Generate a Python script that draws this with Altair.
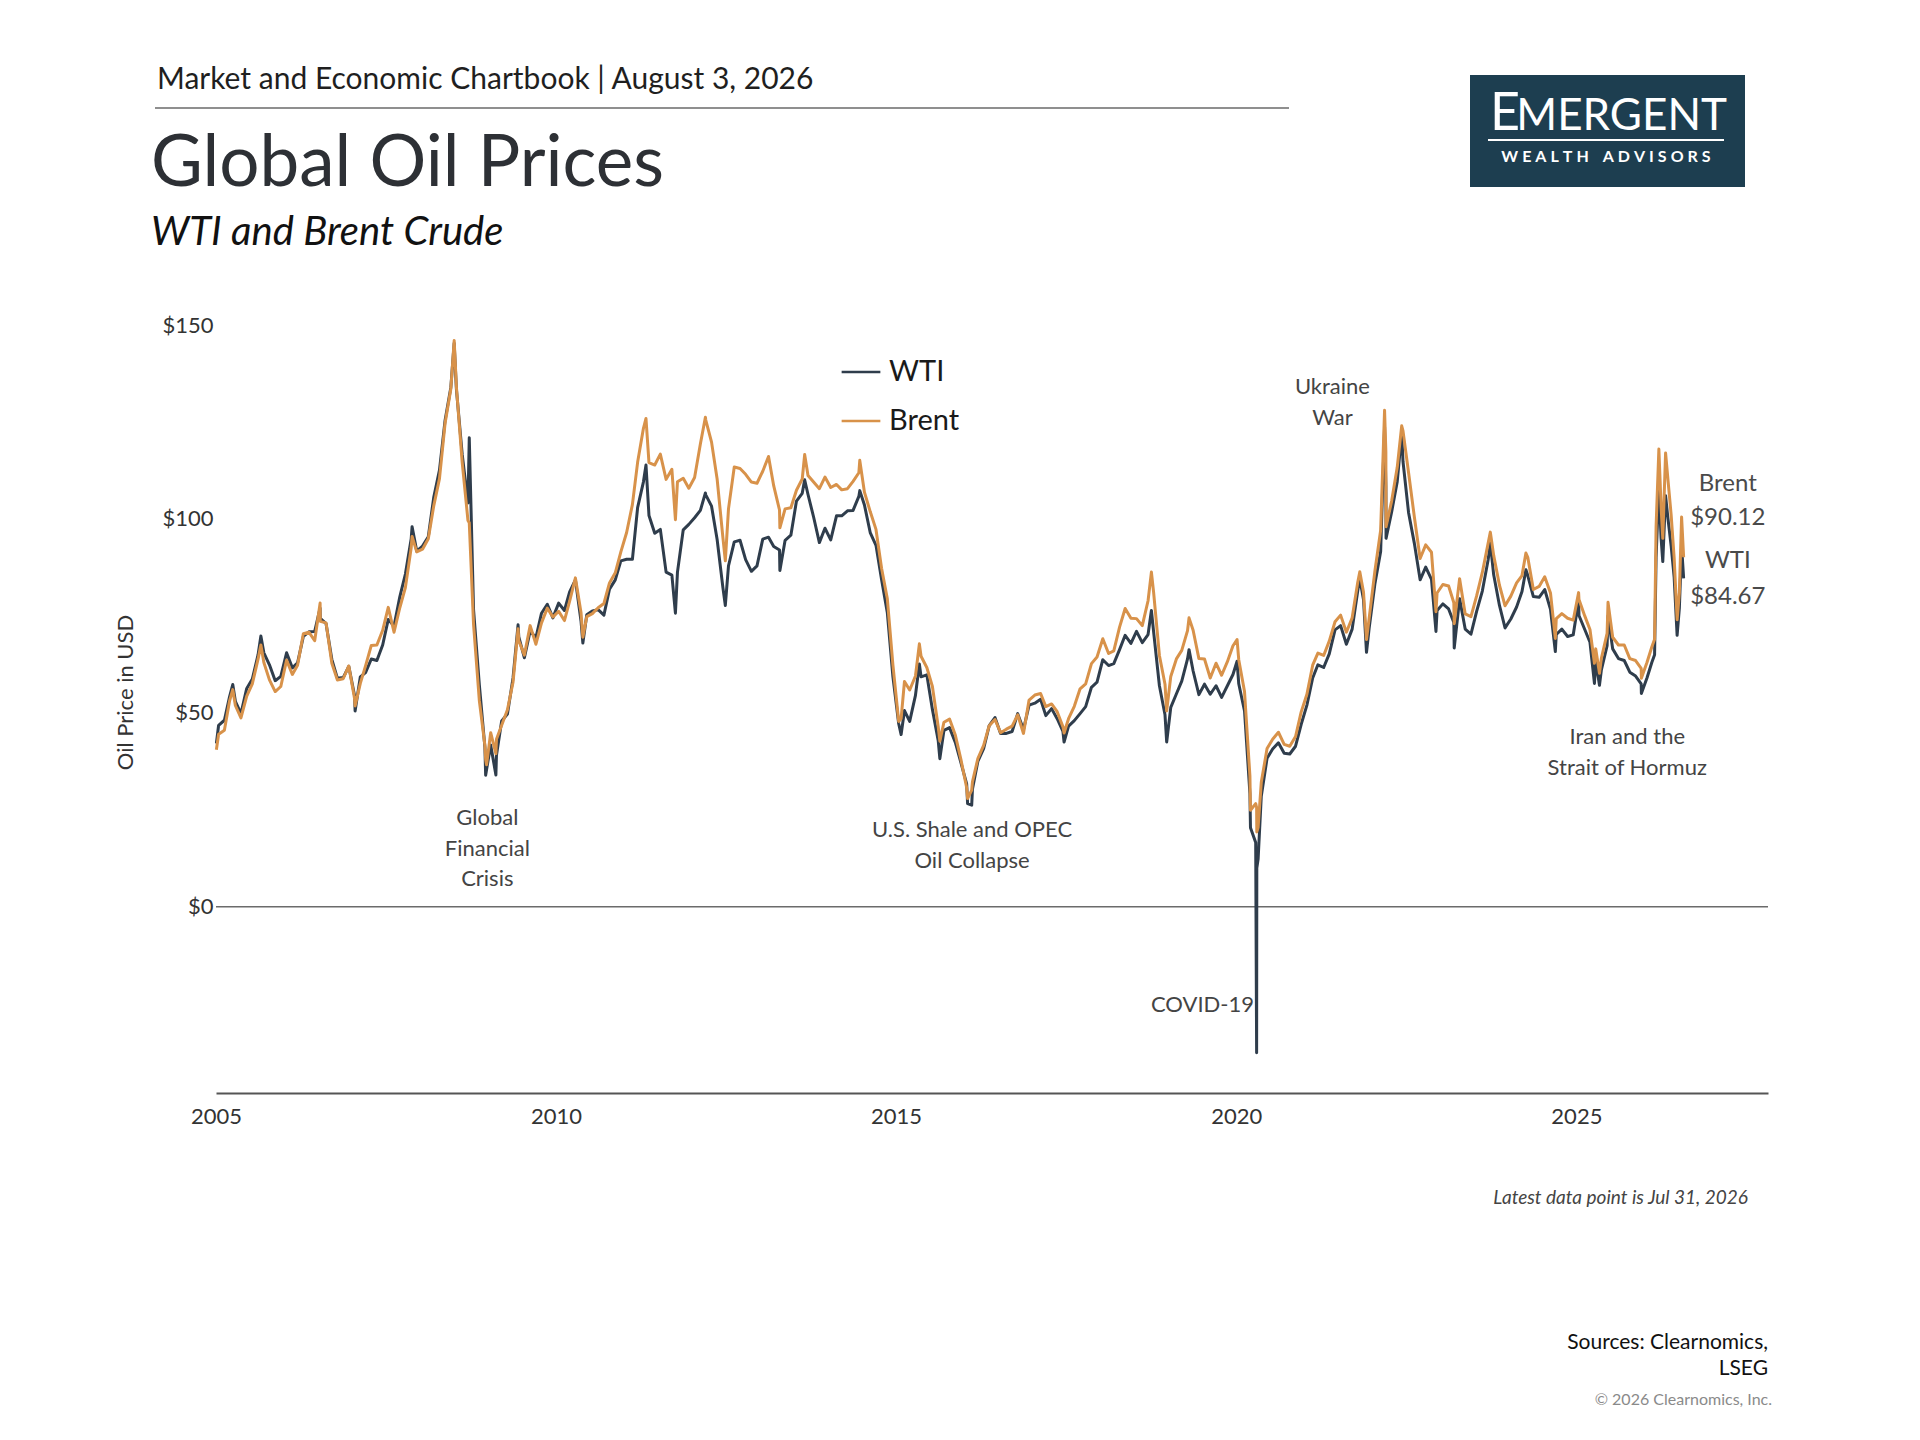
import altair as alt
import pandas as pd

# ---------------- data ----------------
month_starts = pd.date_range("2005-01-01", "2025-12-01", freq="MS")

wti_monthly = [
    46.8, 48.1, 54.2, 53.0, 49.8, 56.3, 58.7, 65.0, 65.5, 62.4, 58.3, 59.4,
    65.5, 61.6, 62.9, 69.7, 70.9, 71.0, 74.4, 73.0, 63.8, 58.9, 59.1, 62.0,
    54.5, 59.3, 60.4, 63.9, 63.5, 67.5, 74.1, 72.4, 79.9, 85.8, 94.8, 91.7,
    93.0, 95.4, 105.5, 112.6, 125.4, 133.9, 133.4, 116.7, 104.1, 76.6, 57.3, 41.1,
    41.7, 39.1, 47.9, 49.7, 59.0, 69.6, 64.2, 71.1, 69.4, 75.7, 78.0, 74.5,
    78.3, 76.4, 81.2, 84.3, 73.7, 75.3, 76.3, 76.6, 75.2, 81.9, 84.3, 89.2,
    89.6, 89.6, 102.9, 109.5, 100.9, 96.3, 97.3, 86.3, 85.5, 86.3, 97.2, 98.6,
    100.3, 102.2, 106.2, 103.3, 94.7, 82.3, 87.9, 94.1, 94.5, 89.5, 86.5, 87.9,
    94.8, 95.3, 92.9, 92.0, 94.5, 95.8, 104.6, 106.6, 106.3, 100.5, 93.9, 97.6,
    94.6, 100.8, 100.8, 102.1, 102.2, 105.8, 103.6, 96.5, 93.2, 84.4, 75.8, 59.3,
    47.2, 50.6, 47.8, 54.5, 59.3, 59.8, 50.9, 42.9, 45.5, 46.2, 42.4, 37.2,
    31.7, 30.3, 37.5, 40.8, 46.7, 48.8, 44.7, 44.7, 45.2, 49.8, 45.7, 52.0,
    52.5, 53.5, 49.3, 51.1, 48.5, 45.2, 46.6, 48.0, 49.8, 51.6, 56.6, 57.9,
    63.7, 62.2, 62.7, 66.3, 70.0, 67.9, 71.0, 68.1, 70.2, 70.8, 57.0, 49.5,
    51.4, 55.0, 58.2, 63.9, 60.8, 54.7, 57.4, 54.8, 57.0, 54.0, 57.0, 59.9,
    57.5, 50.5, 29.2, 16.6, 28.5, 38.3, 40.7, 42.3, 39.6, 39.4, 41.4, 47.0,
    52.0, 59.0, 62.4, 61.7, 65.2, 71.4, 72.5, 67.7, 71.6, 81.5, 79.2, 71.7,
    83.2, 91.6, 108.5, 101.8, 109.6, 114.8, 101.6, 93.7, 84.3, 87.6, 84.4, 76.4,
    78.1, 76.8, 73.3, 79.4, 71.6, 70.3, 76.1, 81.4, 89.4, 85.6, 77.7, 71.9,
    74.2, 77.3, 81.3, 85.4, 80.0, 79.8, 81.8, 76.7, 70.2, 71.6, 69.7, 70.1,
    75.1, 71.5, 68.2, 63.5, 61.0, 67.3, 66.5, 64.0, 63.5, 60.5, 59.5, 57.5,
]

brent_monthly = [
    44.5, 45.5, 53.1, 51.9, 48.7, 54.3, 57.5, 63.9, 63.0, 58.5, 55.5, 56.8,
    63.6, 59.9, 62.3, 70.4, 70.8, 68.6, 73.6, 73.2, 62.8, 58.5, 58.8, 62.1,
    53.7, 57.6, 62.1, 67.4, 67.5, 71.3, 77.2, 70.8, 77.1, 82.3, 92.5, 91.5,
    92.2, 94.9, 103.3, 110.4, 124.6, 133.5, 134.0, 114.6, 99.6, 72.8, 53.2, 41.6,
    44.9, 43.2, 46.8, 50.8, 57.9, 68.6, 64.9, 72.5, 67.7, 73.2, 77.0, 74.7,
    76.2, 73.8, 78.8, 84.8, 75.9, 74.8, 75.6, 77.1, 78.2, 83.5, 86.1, 91.5,
    96.5, 103.7, 114.6, 123.3, 114.5, 113.9, 116.7, 110.2, 112.8, 109.6, 110.5, 107.9,
    110.7, 119.3, 125.5, 119.8, 110.3, 95.2, 102.6, 113.4, 113.0, 111.5, 109.5, 109.2,
    112.3, 116.1, 108.5, 102.3, 102.6, 102.9, 107.4, 110.3, 111.2, 109.5, 107.8, 110.8,
    108.1, 108.9, 107.5, 107.8, 109.7, 111.9, 106.9, 101.9, 97.3, 87.3, 79.4, 62.3,
    47.8, 58.1, 55.9, 59.5, 64.6, 61.7, 56.8, 46.5, 47.6, 48.4, 44.3, 38.0,
    30.7, 32.2, 38.2, 41.6, 46.7, 48.3, 44.9, 45.8, 46.6, 49.5, 44.7, 53.3,
    54.6, 55.0, 51.6, 52.3, 50.3, 46.4, 48.5, 51.7, 56.2, 57.5, 62.7, 64.4,
    69.1, 65.3, 66.0, 72.1, 76.9, 74.4, 74.3, 72.5, 78.9, 81.0, 64.8, 57.4,
    59.4, 64.0, 66.1, 71.2, 71.3, 64.0, 63.9, 59.0, 62.8, 59.7, 63.2, 67.3,
    63.7, 55.5, 33.7, 26.6, 32.1, 40.8, 43.2, 45.0, 41.9, 41.4, 43.9, 50.2,
    54.8, 62.3, 65.4, 64.8, 68.5, 73.5, 75.2, 70.8, 74.5, 83.7, 81.1, 74.3,
    86.5, 97.1, 117.3, 104.6, 113.3, 122.7, 111.9, 100.5, 89.8, 93.3, 91.4, 80.9,
    83.1, 82.7, 78.4, 84.6, 75.5, 74.8, 80.1, 86.2, 93.7, 90.6, 82.9, 77.6,
    80.1, 83.5, 85.4, 90.1, 81.8, 82.6, 85.1, 80.9, 74.3, 75.6, 74.4, 73.9,
    79.2, 75.0, 71.5, 66.5, 64.0, 70.5, 69.5, 67.5, 67.5, 64.0, 63.5, 61.5,
]

# notable daily highs / lows and the 2026 episode
extra_dates = [
    "2005-01-03", "2005-04-01", "2005-08-30", "2006-07-14", "2007-01-18",
    "2007-11-20", "2008-07-03", "2008-09-22", "2008-12-19", "2008-12-24",
    "2009-02-12", "2009-06-11", "2010-05-25", "2011-04-29", "2011-10-04",
    "2012-03-13", "2012-06-28", "2013-04-17", "2013-08-28", "2014-06-20",
    "2015-01-28", "2015-05-06", "2015-08-24", "2016-01-20", "2016-02-11",
    "2017-06-21", "2018-10-03", "2018-12-24", "2019-04-23", "2020-01-06",
    "2020-03-18", "2020-04-20", "2020-04-21", "2020-04-28", "2021-10-26",
    "2021-12-01", "2022-03-08", "2022-03-16", "2022-06-08", "2022-12-09",
    "2023-03-17", "2023-09-27", "2024-04-05", "2024-09-10", "2025-01-13",
    "2025-04-08", "2025-05-05", "2025-06-20", "2025-12-16",
    "2026-01-15", "2026-02-10", "2026-02-25", "2026-03-05", "2026-03-20",
    "2026-04-01", "2026-04-10", "2026-04-25", "2026-05-08", "2026-05-25",
    "2026-06-10", "2026-06-26", "2026-07-08", "2026-07-20", "2026-07-31",
]
extra_wti = [
    42.1, 57.3, 69.8, 77.0, 50.5,
    98.0, 145.3, 120.9, 33.9, 35.4,
    34.0, 72.7, 68.0, 113.9, 75.7,
    106.7, 77.7, 86.7, 110.1, 107.3,
    44.4, 62.6, 38.2, 26.6, 26.2,
    42.5, 76.4, 42.5, 66.3, 63.3,
    20.4, -37.6, 10.0, 12.3, 84.6,
    65.6, 123.7, 95.0, 122.1, 71.0,
    66.7, 93.7, 86.9, 65.8, 79.0,
    57.6, 57.1, 75.0, 55.0,
    59.0, 63.0, 65.0, 90.0, 108.0,
    95.0, 89.0, 106.0, 100.0, 93.0,
    85.0, 70.0, 77.0, 93.0, 84.67,
]
extra_brent = [
    40.5, 56.0, 67.5, 78.3, 51.8,
    95.5, 146.0, 99.0, 38.0, 36.6,
    39.5, 71.7, 69.5, 125.9, 99.8,
    126.2, 89.2, 97.7, 116.6, 115.1,
    48.5, 67.8, 42.7, 27.9, 30.1,
    44.8, 86.3, 50.5, 74.5, 68.9,
    24.9, 25.6, 19.3, 20.5, 86.4,
    68.9, 128.0, 98.0, 124.0, 76.1,
    73.0, 96.6, 91.2, 69.2, 81.0,
    62.8, 60.2, 78.5, 58.9,
    63.0, 67.0, 69.0, 98.0, 118.0,
    103.0, 95.0, 117.0, 110.0, 101.0,
    90.0, 74.0, 81.0, 100.5, 90.12,
]

series_names = ["WTI", "Brent"]
series_colors = ["#2f3d4c", "#d8924a"]
y_tick_values = [0, 50, 100, 150]
x_tick_years = [2005, 2010, 2015, 2020, 2025]

ann_text = ["Global", "Financial", "Crisis", "U.S. Shale and OPEC", "Oil Collapse",
            "Ukraine", "War", "Iran and the", "Strait of Hormuz"]
ann_date = ["2008-12-28"] * 3 + ["2016-02-13"] * 2 + ["2021-06-01"] * 2 + ["2025-10-01"] * 2
ann_value = [22.8, 14.8, 7.1, 19.7, 11.7, 133.9, 125.9, 43.7, 35.7]

last_text = ["Brent", "$90.12", "WTI", "$84.67"]
last_date = ["2027-03-25"] * 4
last_value = [108.9, 100.2, 89.1, 79.8]

covid_text = ["COVID-19"]
covid_date = ["2020-04-06"]
covid_value = [-25.4]

# ---------------- tables ----------------
monthly_dates = list(month_starts + pd.Timedelta(days=14))
prices = pd.DataFrame({
    "date": monthly_dates + list(pd.to_datetime(extra_dates)),
    "WTI": wti_monthly + extra_wti,
    "Brent": brent_monthly + extra_brent,
}).sort_values("date")
long = prices.melt(id_vars="date", var_name="series", value_name="price")

ann = pd.DataFrame({"date": pd.to_datetime(ann_date), "price": ann_value, "text": ann_text})
last = pd.DataFrame({"date": pd.to_datetime(last_date), "price": last_value, "text": last_text})
covid = pd.DataFrame({"date": pd.to_datetime(covid_date), "price": covid_value, "text": covid_text})
one = pd.DataFrame({"a": [0]})

FONT = "Lato"
W, H = 1552, 768

x_enc = alt.X(
    "date:T",
    scale=alt.Scale(domain=[alt.DateTime(year=2005, month=1, date=1),
                            alt.DateTime(year=2027, month=10, date=27)]),
    axis=alt.Axis(
        values=[alt.DateTime(year=y, month=1, date=1) for y in x_tick_years],
        format="%Y", title=None, ticks=False, grid=False, labelFlush=False,
        labelFont=FONT, labelFontSize=22, labelColor="#333333", labelPadding=13,
        domainColor="#555555", domainWidth=2,
    ),
)
y_enc = alt.Y(
    "price:Q",
    scale=alt.Scale(domain=[-48, 150], nice=False, zero=False),
    axis=alt.Axis(
        values=y_tick_values, labelExpr="'$' + datum.value", ticks=False, domain=False,
        grid=False, labelFont=FONT, labelFontSize=22, labelColor="#333333", labelPadding=3,
        title="Oil Price in USD", titleFont=FONT, titleFontSize=22, titleFontWeight="normal",
        titleColor="#333333", titleX=-91, titleY=367, titleAlign="center", titleAngle=270,
        titleBaseline="middle",
    ),
)
color_enc = alt.Color(
    "series:N",
    scale=alt.Scale(domain=series_names, range=series_colors),
    legend=alt.Legend(
        title=None, orient="none", legendX=624, legendY=26, symbolType="stroke",
        symbolSize=1500, symbolStrokeWidth=2.5, labelFont=FONT, labelFontSize=29,
        labelColor="#1a1a1a", labelOffset=7, rowPadding=13, padding=0, offset=0,
    ),
)

base = alt.Chart(long)
wti_line = base.transform_filter(alt.datum.series == "WTI").mark_line(
    strokeWidth=3.0, strokeJoin="round").encode(x=x_enc, y=y_enc, color=color_enc)
brent_line = base.transform_filter(alt.datum.series == "Brent").mark_line(
    strokeWidth=3.0, strokeJoin="round").encode(x=x_enc, y=y_enc, color=color_enc)

zero_rule = alt.Chart(one).mark_rule(color="#6b6b6b", strokeWidth=1.6).encode(
    y=alt.datum(0), x=alt.value(0), x2=alt.value(W))

ann_layer = alt.Chart(ann).mark_text(font=FONT, fontSize=22, color="#444444",
                                     align="center", baseline="middle").encode(
    x="date:T", y="price:Q", text="text:N")
last_layer = alt.Chart(last).mark_text(font=FONT, fontSize=24, color="#4a4a4a",
                                       align="center", baseline="middle").encode(
    x="date:T", y="price:Q", text="text:N")
covid_layer = alt.Chart(covid).mark_text(font=FONT, fontSize=22, color="#444444",
                                         align="right", baseline="middle").encode(
    x="date:T", y="price:Q", text="text:N")


def label(txt, x, y, size, color, align="left", baseline="middle", style=None,
          weight=None):
    kw = dict(text=txt, font=FONT, fontSize=size, color=color, align=align, baseline=baseline)
    if style:
        kw["fontStyle"] = style
    if weight:
        kw["fontWeight"] = weight
    return alt.Chart(one).mark_text(**kw).encode(x=alt.value(x), y=alt.value(y))


header = label("Market and Economic Chartbook | August 3, 2026", -59, -245, 30, "#1f1f1f")
header_rule = alt.Chart(one).mark_rule(color="#6a6a6a", strokeWidth=1.3).encode(
    x=alt.value(-61), x2=alt.value(1073), y=alt.value(-217))
title = label("Global Oil Prices", -65, -160, 71, "#2d3035")
subtitle = label("WTI and Brent Crude", -65, -92, 40, "#111111", style="italic")

logo_box = alt.Chart(one).mark_rect(color="#1d3e50").encode(
    x=alt.value(1254), x2=alt.value(1529), y=alt.value(-250), y2=alt.value(-138))
logo_e = label("E", 1274, -195, 52, "#ffffff", baseline="alphabetic")
logo_rest = label("MERGENT", 1511, -195, 44, "#ffffff", align="right",
                  baseline="alphabetic")
logo_rule = alt.Chart(one).mark_rule(color="#ffffff", strokeWidth=2).encode(
    x=alt.value(1272), x2=alt.value(1508), y=alt.value(-185))
sp = "\u2009\u2009"
logo_sub = label(sp.join("WEALTH") + "\u2003\u2009" + sp.join("ADVISORS"),
                 1390, -168, 16, "#ffffff", align="center", weight="bold")

latest = label("Latest data point is Jul 31, 2026", 1532, 873, 19, "#444444",
               align="right", style="italic")
src1 = label("Sources: Clearnomics,", 1552, 1018, 21, "#111111", align="right")
src2 = label("LSEG", 1552, 1044, 21, "#111111", align="right")
copy = label("\u00a9 2026 Clearnomics, Inc.", 1556, 1075, 16, "#8a8a8a", align="right")

chart = alt.layer(
    zero_rule, wti_line, brent_line, ann_layer, last_layer, covid_layer,
    header, header_rule, title, subtitle,
    logo_box, logo_e, logo_rest, logo_rule, logo_sub,
    latest, src1, src2, copy,
).properties(
    width=W, height=H,
    autosize=alt.AutoSizeParams(type="none"),
    padding={"left": 208, "top": 317, "right": 144, "bottom": 339},
    background="#ffffff",
).configure_view(stroke=None)

chart.save("out.html", embed_options={"renderer": "svg", "actions": False})
